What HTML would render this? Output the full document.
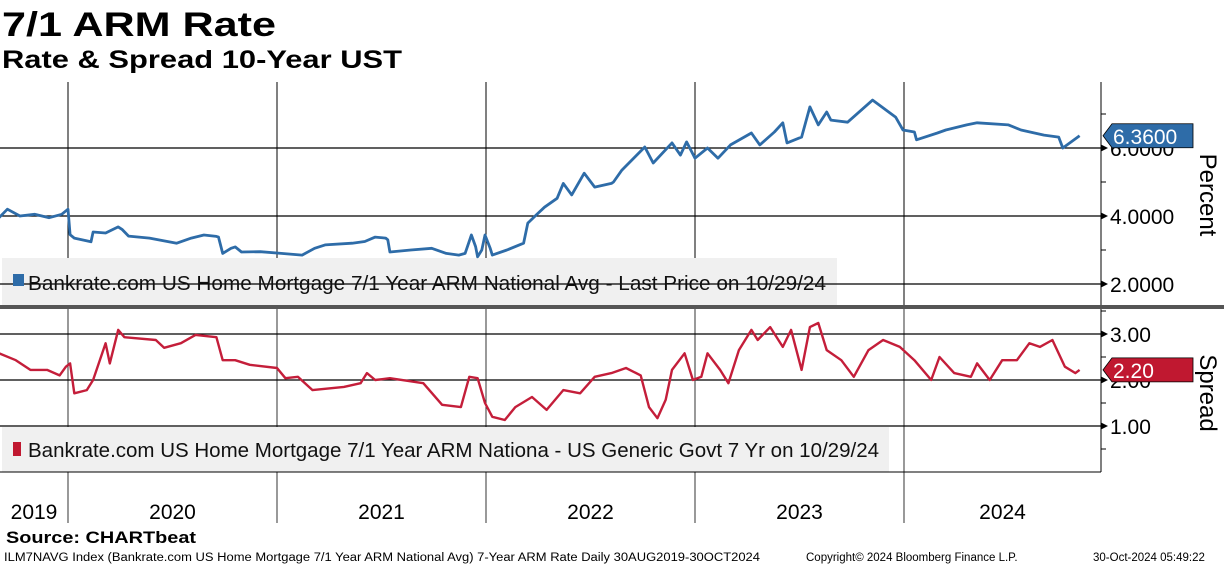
<!DOCTYPE html>
<html><head><meta charset="utf-8"><style>
body{margin:0;background:#fff;width:1224px;height:566px;overflow:hidden;font-family:"Liberation Sans",sans-serif}
svg{display:block}
</style></head><body>
<svg id="chart" width="1224" height="566" xmlns="http://www.w3.org/2000/svg">
<text x="2" y="36" font-size="34" font-weight="bold" fill="#000" textLength="274" lengthAdjust="spacingAndGlyphs">7/1 ARM Rate</text>
<text x="2" y="68" font-size="25" font-weight="bold" fill="#000" textLength="400" lengthAdjust="spacingAndGlyphs">Rate &amp; Spread 10-Year UST</text>
<g id="grid"></g>
<rect x="2" y="258" width="835" height="47" fill="#f0f0f0"/>
<rect x="2" y="427" width="887" height="45" fill="#f0f0f0"/>
<g id="hgrid"></g>
<g id="series"></g>
<rect x="13" y="274" width="11" height="12" fill="#2e6ca8"/>
<text x="28" y="290" font-size="20" fill="#111" textLength="798" lengthAdjust="spacingAndGlyphs">Bankrate.com US Home Mortgage 7/1 Year ARM National Avg - Last Price on 10/29/24</text>
<rect x="13" y="442" width="8" height="14" fill="#c01830"/>
<text x="28" y="457" font-size="20" fill="#111" textLength="851" lengthAdjust="spacingAndGlyphs">Bankrate.com US Home Mortgage 7/1 Year ARM Nationa - US Generic Govt 7 Yr on 10/29/24</text>
<rect x="0" y="305" width="1224" height="4" fill="#555"/>
<line x1="1101" y1="82" x2="1101" y2="305" stroke="#000" stroke-width="1"/>
<line x1="1101" y1="309" x2="1101" y2="472" stroke="#000" stroke-width="1"/>
<line x1="0" y1="472" x2="1101" y2="472" stroke="#000" stroke-width="1"/>
<g id="axes"></g>
<text transform="translate(1200,195) rotate(90)" font-size="24" text-anchor="middle" fill="#000">Percent</text>
<text transform="translate(1200,393) rotate(90)" font-size="24" text-anchor="middle" fill="#000">Spread</text>
<g id="labels"></g>
<text x="6" y="543" font-size="17" font-weight="bold" fill="#000" textLength="190" lengthAdjust="spacingAndGlyphs">Source: CHARTbeat</text>
<text x="4" y="561" font-size="11.5" fill="#000" textLength="756" lengthAdjust="spacingAndGlyphs">ILM7NAVG Index (Bankrate.com US Home Mortgage 7/1 Year ARM National Avg) 7-Year ARM Rate  Daily 30AUG2019-30OCT2024</text>
<text x="806" y="561" font-size="11.5" fill="#000">Copyright© 2024 Bloomberg Finance L.P.</text>
<text x="1093" y="561" font-size="11.5" fill="#000">30-Oct-2024 05:49:22</text>
</svg>
<script>
const rateDates=[2019.67,2019.71,2019.77,2019.84,2019.91,2019.97,2020.00,2020.01,2020.03,2020.11,2020.12,2020.18,2020.24,2020.26,2020.29,2020.39,2020.52,2020.59,2020.65,2020.71,2020.72,2020.74,2020.78,2020.80,2020.83,2020.92,2021.02,2021.12,2021.18,2021.23,2021.36,2021.42,2021.47,2021.52,2021.53,2021.54,2021.64,2021.74,2021.81,2021.87,2021.90,2021.93,2021.95,2021.96,2021.98,2021.995,2022.02,2022.03,2022.10,2022.18,2022.20,2022.24,2022.28,2022.34,2022.37,2022.41,2022.47,2022.52,2022.60,2022.61,2022.65,2022.76,2022.80,2022.89,2022.93,2022.96,2023.00,2023.06,2023.11,2023.17,2023.27,2023.31,2023.38,2023.42,2023.44,2023.51,2023.55,2023.59,2023.63,2023.65,2023.73,2023.85,2023.90,2023.96,2023.995,2024.05,2024.06,2024.16,2024.20,2024.30,2024.35,2024.50,2024.56,2024.67,2024.74,2024.76,2024.84];
const rateValues=[3.95,4.2,4.0,4.05,3.95,4.05,4.2,3.45,3.35,3.24,3.53,3.5,3.68,3.6,3.41,3.35,3.2,3.35,3.44,3.4,3.38,2.9,3.05,3.09,2.94,2.95,2.9,2.85,3.05,3.15,3.2,3.25,3.38,3.35,3.3,2.94,3.0,3.05,2.9,2.85,2.9,3.44,3.1,2.8,3.0,3.44,3.05,2.85,3.0,3.2,3.79,4.03,4.26,4.52,4.96,4.62,5.26,4.85,4.96,5.0,5.35,6.03,5.56,6.15,5.79,6.18,5.7,6.0,5.7,6.09,6.44,6.09,6.47,6.74,6.15,6.32,7.21,6.68,7.06,6.82,6.76,7.41,7.18,6.91,6.53,6.47,6.24,6.44,6.53,6.68,6.74,6.68,6.53,6.38,6.32,6.0,6.36];
const spreadDates=[2019.67,2019.75,2019.82,2019.90,2019.96,2019.99,2020.01,2020.03,2020.09,2020.12,2020.18,2020.20,2020.24,2020.27,2020.42,2020.46,2020.54,2020.61,2020.71,2020.74,2020.80,2020.87,2021.00,2021.04,2021.10,2021.17,2021.32,2021.40,2021.43,2021.47,2021.54,2021.70,2021.79,2021.88,2021.92,2021.96,2021.995,2022.03,2022.09,2022.14,2022.22,2022.29,2022.37,2022.45,2022.52,2022.60,2022.67,2022.74,2022.78,2022.82,2022.86,2022.89,2022.95,2022.99,2023.03,2023.06,2023.12,2023.16,2023.21,2023.27,2023.30,2023.36,2023.42,2023.46,2023.51,2023.55,2023.59,2023.63,2023.70,2023.76,2023.83,2023.90,2023.98,2024.05,2024.13,2024.17,2024.24,2024.32,2024.35,2024.41,2024.47,2024.54,2024.60,2024.65,2024.71,2024.77,2024.82,2024.84];
const spreadValues=[2.58,2.43,2.22,2.22,2.1,2.29,2.36,1.71,1.78,2.0,2.8,2.36,3.09,2.93,2.87,2.7,2.8,2.98,2.93,2.43,2.43,2.33,2.26,2.04,2.07,1.78,1.85,1.93,2.15,2.0,2.04,1.93,1.46,1.41,2.07,2.04,1.5,1.2,1.13,1.41,1.63,1.35,1.78,1.71,2.07,2.15,2.26,2.1,1.41,1.17,1.57,2.22,2.58,2.0,2.07,2.58,2.22,1.93,2.65,3.09,2.87,3.15,2.72,3.09,2.22,3.15,3.24,2.65,2.43,2.07,2.65,2.87,2.72,2.43,2.0,2.5,2.15,2.07,2.36,2.0,2.43,2.43,2.8,2.72,2.87,2.29,2.15,2.22];
const years=[2019,2020,2021,2022,2023,2024];
const yearBoundaries=[2020,2021,2022,2023,2024];
const rateTicks=[2,4,6];
const rateTickLabels=["2.0000","4.0000","6.0000"];
const spreadTicks=[1,2,3];
const spreadTickLabels=["1.00","2.00","3.00"];
const lastRate="6.3600", lastSpread="2.20";

const NS="http://www.w3.org/2000/svg";
const X=t=>68+(t-2020)*209;
const Yr=v=>352-34*v;
const Ys=v=>472-46*v;
function mk(tag,attrs,parent){const e=document.createElementNS(NS,tag);for(const k in attrs)e.setAttribute(k,attrs[k]);document.getElementById(parent).appendChild(e);return e;}

yearBoundaries.forEach(y=>{
  const l1=mk('line',{x1:X(y),x2:X(y),y1:82,y2:305,stroke:'#000','stroke-width':1},'grid');
  
  
  const l2=mk('line',{x1:X(y),x2:X(y),y1:309,y2:523,stroke:'#000','stroke-width':0.8},'grid');
  
  
});
rateTicks.forEach((v,i)=>{
  const l=mk('line',{x1:0,x2:1101,y1:Yr(v),y2:Yr(v),stroke:'#000','stroke-width':1.2},'hgrid');
  
  
  const a=mk('path',{d:`M1101 ${Yr(v)-3.5} L1108 ${Yr(v)} L1101 ${Yr(v)+3.5}Z`,fill:'#000'},'axes');
  
  
  const t=mk('text',{x:1110,y:Yr(v)+8,'font-size':21,fill:'#000'},'axes');
  t.textContent=rateTickLabels[i];
  
  
});
[3,5,7].forEach(v=>{mk('line',{x1:1101,x2:1106,y1:Yr(v),y2:Yr(v),stroke:'#000'},'axes');});
spreadTicks.forEach((v,i)=>{
  const l=mk('line',{x1:0,x2:1101,y1:Ys(v),y2:Ys(v),stroke:'#000','stroke-width':1.2},'hgrid');
  
  
  const a=mk('path',{d:`M1101 ${Ys(v)-3.5} L1108 ${Ys(v)} L1101 ${Ys(v)+3.5}Z`,fill:'#000'},'axes');
  
  
  const t=mk('text',{x:1110,y:Ys(v)+8,'font-size':21,fill:'#000'},'axes');
  t.textContent=spreadTickLabels[i];
  
  
});
[0.5,1.5,2.5,3.5].forEach(v=>{mk('line',{x1:1101,x2:1106,y1:Ys(v),y2:Ys(v),stroke:'#000'},'axes');});
years.forEach(y=>{
  const a=Math.max(X(y),0), b=Math.min(X(y+1),1101);
  const t=mk('text',{x:(a+b)/2,y:519,'font-size':21,'text-anchor':'middle',fill:'#000'},'axes');
  t.textContent=String(y);
  
  
});
const rp=mk('path',{d:rateDates.map((d,i)=>(i?'L':'M')+X(d).toFixed(1)+' '+Yr(rateValues[i]).toFixed(1)).join(' '),fill:'none',stroke:'#2e6ca8','stroke-width':2.8,'stroke-linejoin':'round'},'series');


const sp=mk('path',{d:spreadDates.map((d,i)=>(i?'L':'M')+X(d).toFixed(1)+' '+Ys(spreadValues[i]).toFixed(1)).join(' '),fill:'none',stroke:'#c41e3a','stroke-width':2.4,'stroke-linejoin':'round'},'series');


function tag(y,color,txt,name){
  const p=mk('path',{d:`M1103 ${y} L1112 ${y-12} L1193 ${y-12} L1193 ${y+12} L1112 ${y+12}Z`,fill:color,stroke:'#000','stroke-width':0.8},'labels');
  
  
  const t=mk('text',{x:1113,y:y+8,'font-size':21,fill:'#fff'},'labels');
  t.textContent=txt;
  
  
}
tag(Yr(rateValues[rateValues.length-1]),'#2e6ca8',lastRate,'last-rate');
tag(Ys(spreadValues[spreadValues.length-1]),'#c01830',lastSpread,'last-spread');
</script>
</body></html>
